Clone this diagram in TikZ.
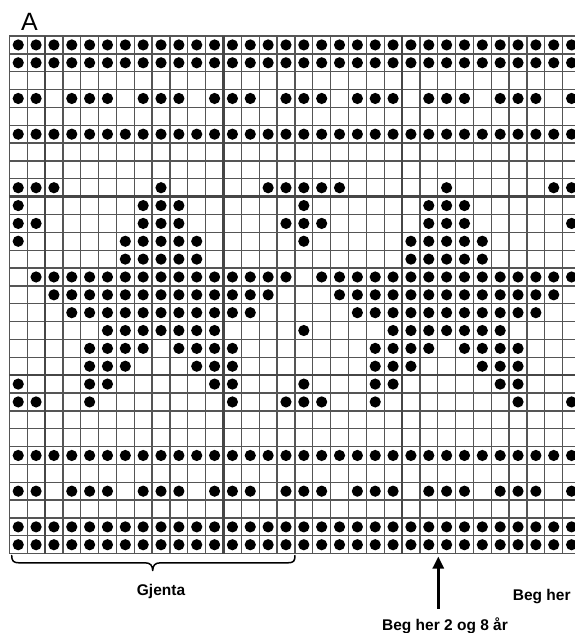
\documentclass[tikz,border=0pt]{standalone}
\usepackage{fontspec}
\setmainfont{Liberation Sans}
\usetikzlibrary{arrows.meta}
\definecolor{gridgray}{RGB}{85,85,85}
\definecolor{thickgray}{RGB}{70,70,70}
\begin{document}
\begin{tikzpicture}[x=1pt,y=-1pt,
  gridthin/.style={draw=gridgray,line width=1.3pt},
  gridthick/.style={draw=thickgray,line width=2.6pt},
  stitch/.style={fill=black},
  lbl/.style={font=\fontsize{15.5}{18}\selectfont\bfseries,inner sep=0pt,anchor=base},
  bracestyle/.style={draw=black,line width=1.5pt,line cap=round,line join=round},
  arrowstyle/.style={draw=black,line width=2.8pt,-{Triangle[width=11pt,length=12pt]}}]
\useasboundingbox (0,0) rectangle (575,633);
\clip (0,0) rectangle (575,633);
% chart
\begin{scope}[shift={(9.3,36)},x=17.85pt,y=-17.85pt]
  \foreach \i in {0,...,32} \draw[gridthin] (\i,0) -- (\i,29);
  \foreach \j in {0,...,29} \draw[gridthin] (0,\j) -- (32,\j);
  \foreach \i in {2,12,22} \draw[gridthick] (\i,0) -- (\i,29);
  \foreach \j in {9,19} \draw[gridthick] (0,\j) -- (32,\j);
  \foreach \r/\cols in {
    1/{1,...,32},
    2/{1,...,32},
    4/{1,2,4,5,6,8,9,10,12,13,14,16,17,18,20,21,22,24,25,26,28,29,30,32},
    6/{1,...,32},
    9/{1,2,3,9,15,16,17,18,19,25,31,32},
    10/{1,8,9,10,17,24,25,26},
    11/{1,2,8,9,10,16,17,18,24,25,26,32},
    12/{1,7,8,9,10,11,17,23,24,25,26,27},
    13/{7,8,9,10,11,23,24,25,26,27},
    14/{2,3,4,5,6,7,8,9,10,11,12,13,14,15,16,18,19,20,21,22,23,24,25,26,27,28,29,30,31,32},
    15/{3,4,5,6,7,8,9,10,11,12,13,14,15,19,20,21,22,23,24,25,26,27,28,29,30,31},
    16/{4,5,6,7,8,9,10,11,12,13,14,20,21,22,23,24,25,26,27,28,29,30},
    17/{6,7,8,9,10,11,12,17,22,23,24,25,26,27,28},
    18/{5,6,7,8,10,11,12,13,21,22,23,24,26,27,28,29},
    19/{5,6,7,11,12,13,21,22,23,27,28,29},
    20/{1,5,6,12,13,17,21,22,28,29},
    21/{1,2,5,13,16,17,18,21,29,32},
    24/{1,...,32},
    26/{1,2,4,5,6,8,9,10,12,13,14,16,17,18,20,21,22,24,25,26,28,29,30,32},
    28/{1,...,32},
    29/{1,...,32}}
  {
    \foreach \c in \cols {
      \fill[stitch] (\c-0.5,\r-0.5) circle[radius=5.6pt];
    }
  }
\end{scope}
% title
\node[font=\fontsize{25}{30}\selectfont,inner sep=0pt,anchor=base] (title) at (29.5,30) {A};
% brace
\draw[bracestyle] (11.7,555.5) .. controls (11.7,561) and (13.5,562.8) .. (19,562.8)
  -- (145,562.8) .. controls (150.5,562.8) and (152.5,565.5) .. (152.7,570.5)
  .. controls (152.9,565.5) and (154.9,562.8) .. (160.4,562.8)
  -- (288,562.8) .. controls (293.5,562.8) and (295,561) .. (295,555.5);
\node[lbl] (gjenta) at (161,595) {Gjenta};
% labels and arrow
\node[lbl] (begher) at (541.7,600) {Beg her};
\node[lbl] (begtwo) at (445,630) {Beg her 2 og 8 år};
\coordinate (arrowfoot) at (438.3,608.5);
\coordinate (arrowtip) at (438.3,556.5);
\draw[arrowstyle] (arrowfoot) -- (arrowtip);
\end{tikzpicture}
\end{document}
